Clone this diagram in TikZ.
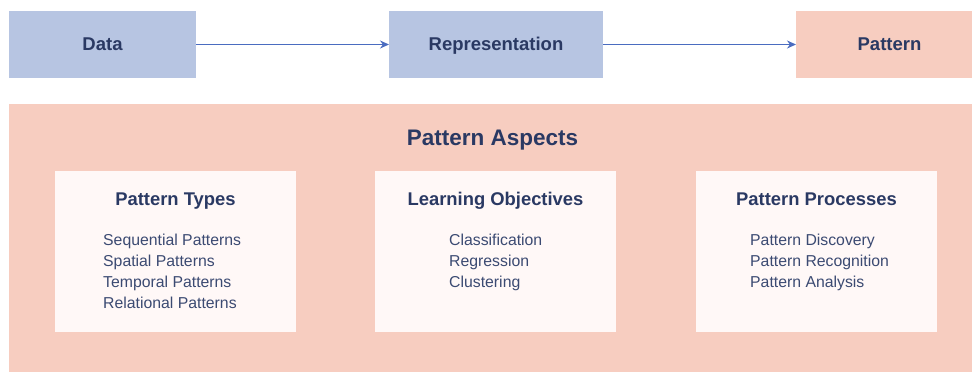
\documentclass[tikz,border=0pt]{standalone}
\usepackage{fontspec}
\setmainfont{Liberation Sans}
\usetikzlibrary{arrows.meta}
\definecolor{boxblue}{HTML}{B7C5E2}
\definecolor{boxpink}{HTML}{F7CDC0}
\definecolor{inner}{HTML}{FFF8F7}
\definecolor{txtdark}{HTML}{2A3963}
\definecolor{txtlist}{HTML}{3B4A72}
\definecolor{arrowblue}{HTML}{4A6CC0}
\tikzset{
  topbox/.style={inner sep=0pt, outer sep=0pt, font=\fontsize{18.5}{22}\selectfont\bfseries, text=txtdark},
  panel/.style={fill=inner, draw=none},
  paneltitle/.style={anchor=base, inner sep=0pt, font=\fontsize{18.4}{22}\selectfont\bfseries, text=txtdark},
  item/.style={anchor=base west, inner sep=0pt, font=\fontsize{15.8}{20}\selectfont, text=txtlist},
  flow/.style={draw=arrowblue, line width=1.4pt, -{Stealth[length=9pt,width=8pt]}}
}
\begin{document}
\begin{tikzpicture}[x=1pt,y=-1pt]
\useasboundingbox (0,0) rectangle (972,372);
\clip (0,0) rectangle (972,372);
% top row
\fill[boxblue] (9,11) rectangle (196,78);
\fill[boxblue] (389,11) rectangle (603,78);
\fill[boxpink] (796,11) rectangle (983,78);
\node[topbox, anchor=base] (data) at (102.5,50.5) {Data};
\node[topbox, anchor=base] (repr) at (496,50.5) {Representation};
\node[topbox, anchor=base] (patt) at (889.5,50.5) {Pattern};
\coordinate (dataE) at (196,44.5);
\coordinate (reprW) at (389,44.5);
\coordinate (reprE) at (603,44.5);
\coordinate (pattW) at (796,44.5);
\draw[flow] (dataE) -- (reprW);
\draw[flow] (reprE) -- (pattW);
% aspects
\fill[boxpink] (9,104) rectangle (976,390);
\node[anchor=base, inner sep=0pt, font=\fontsize{22.5}{26}\selectfont\bfseries, text=txtdark] (asp) at (492.5,145) {Pattern Aspects};
\fill[panel] (55,171) rectangle (296,332);
\fill[panel] (375,171) rectangle (616,332);
\fill[panel] (696,171) rectangle (937,332);
\node[paneltitle] (t1) at (175.5,205.5) {Pattern Types};
\node[paneltitle] (t2) at (495.5,205.5) {Learning Objectives};
\node[paneltitle] (t3) at (816.5,205.5) {Pattern Processes};
\node[item] (a1) at (103,245) {Sequential Patterns};
\node[item] (a2) at (103,266) {Spatial Patterns};
\node[item] (a3) at (103,287) {Temporal Patterns};
\node[item] (a4) at (103,308) {Relational Patterns};
\node[item] (b1) at (449,245) {Classification};
\node[item] (b2) at (449,266) {Regression};
\node[item] (b3) at (449,287) {Clustering};
\node[item] (c1) at (750,245) {Pattern Discovery};
\node[item] (c2) at (750,266) {Pattern Recognition};
\node[item] (c3) at (750,287) {Pattern Analysis};
\end{tikzpicture}
\end{document}
